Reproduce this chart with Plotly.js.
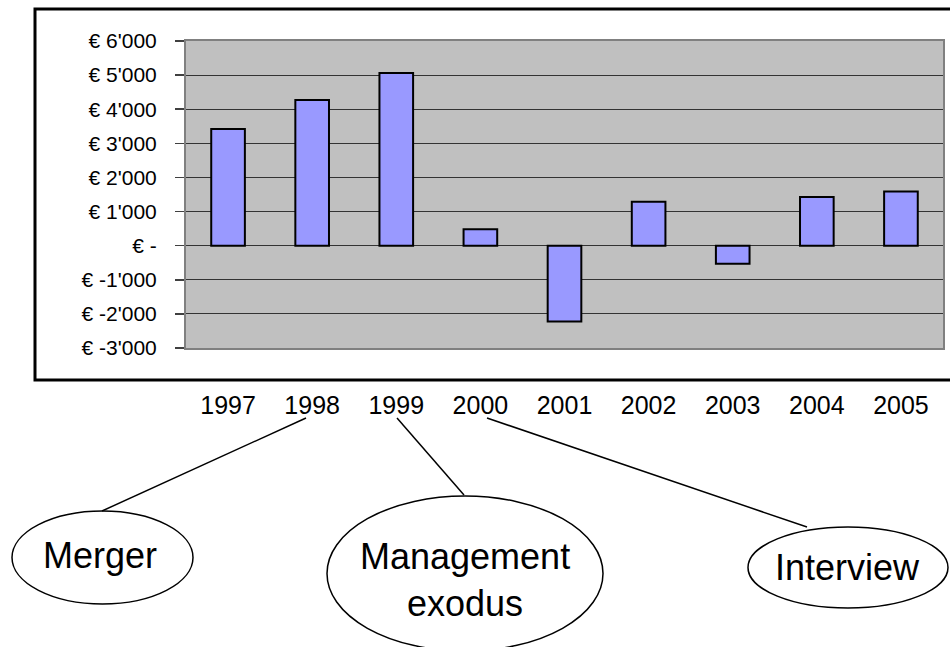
<!DOCTYPE html>
<html>
<head>
<meta charset="utf-8">
<script src="https://cdn.plot.ly/plotly-3.0.1.min.js"></script>
<style>html,body{margin:0;padding:0;background:#fff;}#chart{width:950px;height:647px;}</style>
</head>
<body>
<div id="chart"></div>
<script>
// ---- data ----
const years = ['1997','1998','1999','2000','2001','2002','2003','2004','2005'];
const values = [3420, 4270, 5060, 480, -2220, 1290, -530, 1430, 1590];
const yTickVals = [-3000,-2000,-1000,0,1000,2000,3000,4000,5000,6000];
const yTickText = ["€ -3'000","€ -2'000","€ -1'000","€ -","€ 1'000","€ 2'000","€ 3'000","€ 4'000","€ 5'000","€ 6'000"];
const callouts = ['Merger', 'Management<br>exodus', 'Interview'];

// ---- layout helpers (pixel -> paper) ----
const W = 950, H = 647;
const M = {l: 186, r: 7, t: 41, b: 299};
const PW = W - M.l - M.r, PH = H - M.t - M.b;
const px = x => (x - M.l) / PW;
const py = y => (H - M.b - y) / PH;
const FONT = 'Liberation Sans, Arial, sans-serif';

const shapes = [
  // outer chart border
  {type:'rect', xref:'paper', yref:'paper', x0:px(35), x1:px(953), y0:py(380), y1:py(9),
   line:{color:'#000', width:3}, fillcolor:'rgba(0,0,0,0)', layer:'below'},
  // callout ellipses
  {type:'circle', xref:'paper', yref:'paper', x0:px(12), x1:px(193), y0:py(604), y1:py(511), line:{color:'#000', width:1.5}},
  {type:'circle', xref:'paper', yref:'paper', x0:px(327), x1:px(603), y0:py(651), y1:py(496), line:{color:'#000', width:1.5}},
  {type:'circle', xref:'paper', yref:'paper', x0:px(748), x1:px(948), y0:py(608), y1:py(527), line:{color:'#000', width:1.5}},
  // connector lines
  {type:'line', xref:'paper', yref:'paper', x0:px(306), y0:py(418), x1:px(102), y1:py(511), line:{color:'#000', width:1.5}},
  {type:'line', xref:'paper', yref:'paper', x0:px(397), y0:py(418), x1:px(464), y1:py(495), line:{color:'#000', width:1.5}},
  {type:'line', xref:'paper', yref:'paper', x0:px(487), y0:py(418), x1:px(807), y1:py(527), line:{color:'#000', width:1.5}}
];

const annPos = [[100, 555], [465, 580], [847, 567]];
const annotations = callouts.map((t, i) => ({
  text: t, xref:'paper', yref:'paper', x: px(annPos[i][0]), y: py(annPos[i][1]),
  xanchor:'center', yanchor:'middle', showarrow:false,
  font:{family:FONT, size:36, color:'#000'}
}));

const trace = {
  type:'bar', x: years, y: values,
  marker:{color:'#9999FF', line:{color:'#000', width:2}},
  hoverinfo:'x+y'
};

const layout = {
  width:W, height:H,
  margin:M,
  paper_bgcolor:'#fff', plot_bgcolor:'#C0C0C0',
  showlegend:false, bargap:0.6,
  font:{family:FONT, color:'#000'},
  xaxis:{
    type:'category', showgrid:false, ticks:'', showline:true, mirror:true,
    linecolor:'#808080', linewidth:2,
    tickfont:{family:FONT, size:25, color:'#000'},
    ticklabelstandoff:34
  },
  yaxis:{
    range:[-3000, 6000], tickvals:yTickVals, ticktext:yTickText,
    ticks:'outside', ticklen:9, tickwidth:1.5, tickcolor:'#404040',
    showgrid:true, gridcolor:'#333', gridwidth:1, zeroline:false,
    showline:true, mirror:true, linecolor:'#808080', linewidth:2,
    tickfont:{family:FONT, size:21, color:'#000'},
    ticklabelstandoff:14
  },
  shapes:shapes,
  annotations:annotations
};

Plotly.newPlot('chart', [trace], layout, {displayModeBar:false, staticPlot:true});
</script>
</body>
</html>
